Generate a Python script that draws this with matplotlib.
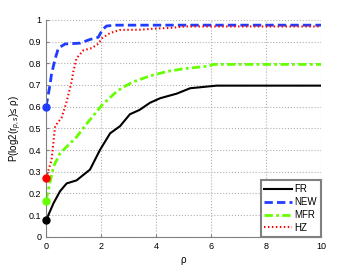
import matplotlib
matplotlib.use('Agg')
import matplotlib.pyplot as plt

plt.rcParams['font.family'] = ['Liberation Sans', 'DejaVu Sans']
plt.rcParams['mathtext.fontset'] = 'custom'
plt.rcParams['mathtext.rm'] = 'Liberation Sans'
plt.rcParams['mathtext.it'] = 'Liberation Sans:italic'

# performance profile data
fr_x = [0, 0.27, 0.51, 0.75, 1.11, 1.6, 1.96, 2.33, 2.69, 3.05, 3.4, 3.78, 4.15, 4.75, 5.24, 6.2, 10]
fr_y = [0.075, 0.154, 0.21, 0.246, 0.26, 0.31, 0.40, 0.477, 0.51, 0.565, 0.585, 0.618, 0.639, 0.66, 0.685, 0.697, 0.697]

new_x = [0, 0.145, 0.2, 0.33, 0.45, 0.69, 1.24, 1.6, 1.9, 2.05, 2.2, 2.5, 10]
new_y = [0.60, 0.70, 0.75, 0.82, 0.87, 0.889, 0.893, 0.91, 0.92, 0.955, 0.972, 0.976, 0.976]

mfr_x = [0, 0.15, 0.27, 0.51, 0.87, 1.11, 1.45, 1.84, 2.03, 2.57, 2.81, 3.18, 3.78, 4.39, 5.0, 5.9, 6.1, 10]
mfr_y = [0.167, 0.254, 0.323, 0.385, 0.43, 0.46, 0.517, 0.577, 0.607, 0.67, 0.69, 0.715, 0.742, 0.762, 0.775, 0.787, 0.795, 0.795]

hz_x = [0, 0.2, 0.33, 0.57, 0.75, 0.93, 0.99, 1.11, 1.36, 1.66, 1.9, 2.03, 2.33, 2.69, 3.42, 3.96, 4.5, 5.05, 10]
hz_y = [0.27, 0.354, 0.51, 0.55, 0.623, 0.715, 0.76, 0.823, 0.86, 0.87, 0.89, 0.915, 0.94, 0.954, 0.955, 0.96, 0.963, 0.97, 0.97]

xticks = [0, 2, 4, 6, 8, 10]
yticks = [0, 0.1, 0.2, 0.3, 0.4, 0.5, 0.6, 0.7, 0.8, 0.9, 1]

fig = plt.figure(figsize=(3.54, 2.66), dpi=100)
ax = fig.add_axes([0.13, 0.11, 0.777, 0.815])

ax.plot(fr_x, fr_y, '-', color='black', lw=1.5, label='FR')
ax.plot(new_x, new_y, '--', color='#1f3cff', lw=2, dashes=(3, 1.5), label='NEW')
ax.plot(mfr_x, mfr_y, '-.', color='#66ff00', lw=2, dashes=(3, 1.2, 1, 1.2), label='MFR')
ax.plot(hz_x, hz_y, ':', color='red', lw=1.5, dashes=(0.7, 1.2), label='HZ')

for y0, c in [(fr_y[0], 'black'), (new_y[0], '#1f3cff'), (mfr_y[0], '#66ff00'), (hz_y[0], 'red')]:
    ax.plot([0], [y0], 'o', color=c, ms=5, clip_on=False, zorder=5)

ax.set_xlim(0, 10)
ax.set_ylim(0, 1)
ax.set_xticks(xticks)
ax.set_yticks(yticks)
ax.set_yticklabels(['0', '0.1', '0.2', '0.3', '0.4', '0.5', '0.6', '0.7', '0.8', '0.9', '1'])
ax.tick_params(labelsize=6.5, length=2, direction='in', color='#808080')
ax.grid(True, linestyle=':', color='#b0b0b0', lw=0.8)

for s in ['top', 'right']:
    ax.spines[s].set_visible(False)
for s in ['left', 'bottom']:
    ax.spines[s].set_color('#808080')

ax.set_xlabel('ρ', fontsize=7, labelpad=3)
ax.set_ylabel(r'P(log2(r$_{p,s}$)≤ ρ)', fontsize=7, labelpad=3)

leg = ax.legend(loc='lower right', fontsize=7, fancybox=False, borderaxespad=0,
                handlelength=2.8, labelspacing=0.3, borderpad=0.4, handletextpad=0.3)
leg.get_frame().set_edgecolor('#808080')
leg.get_frame().set_linewidth(1.5)
leg.get_frame().set_alpha(1)

fig.savefig('out.png', dpi=100)
